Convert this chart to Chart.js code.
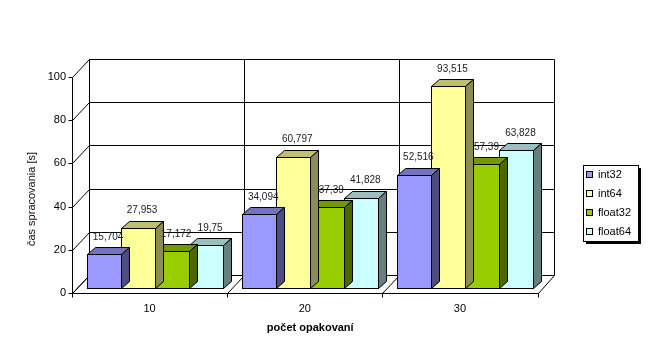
<!DOCTYPE html>
<html><head><meta charset="utf-8">
<script src="https://cdn.jsdelivr.net/npm/chart.js@4/dist/chart.umd.min.js"></script>
<style>html,body{margin:0;padding:0;background:#fff;}canvas{display:block}</style>
</head><body>
<canvas id="c" width="649" height="361"></canvas>
<script>
const categories = ['10', '20', '30'];
const seriesNames = ['int32', 'int64', 'float32', 'float64'];
const int32 = [15.704, 34.094, 52.516];
const int64 = [27.953, 60.797, 93.515];
const float32 = [17.172, 37.39, 57.39];
const float64 = [19.75, 41.828, 63.828];
const yTicks = [0, 20, 40, 60, 80, 100];
const yTitle = 'čas spracovania [s]';
const xTitle = 'počet opakovaní';

const seriesData = [int32, int64, float32, float64];
const frontColors = ['#9999FF', '#FFFF99', '#99CC00', '#CCFFFF'];
const topColors = ['#7373BF', '#BFBF73', '#739900', '#99BFBF'];
const sideColors = ['#4D4D80', '#8C8C59', '#4D6600', '#668080'];

const FONT = 'Liberation Sans, Arial, sans-serif';
Chart.defaults.font.family = FONT;

const FX = -5.5, FY = 5, BX = 11, BY = -13, DX = 8, DY = -7;
const c = v => Math.round(v) + 0.5;

const wall = {
  id: 'wall',
  beforeDatasetsDraw(chart) {
    const {ctx, chartArea: a, scales: {y}} = chart;
    ctx.save();
    ctx.strokeStyle = '#000';
    ctx.lineWidth = 1;
    const line = (x1, y1, x2, y2) => { ctx.beginPath(); ctx.moveTo(c(x1), c(y1)); ctx.lineTo(c(x2), c(y2)); ctx.stroke(); };
    const L = a.left, R = a.right;
    const y0 = y.getPixelForValue(0), y100 = y.getPixelForValue(100);
    yTicks.forEach(v => {
      const py = y.getPixelForValue(v);
      line(L + BX, py + BY, R + BX, py + BY);
      line(L + FX, py + FY, L + BX, py + BY);
      line(L + FX - 4, py + FY, L + FX, py + FY);
    });
    const n = categories.length, cw = (R - L) / n;
    for (let i = 0; i <= n; i++) {
      const px = L + i * cw;
      line(px + BX, y100 + BY, px + BX, y0 + BY);
      line(px + FX, y0 + FY, px + BX, y0 + BY);
      line(px + FX, y0 + FY, px + FX, y0 + FY + 4);
    }
    line(L + FX, y0 + FY, R + FX, y0 + FY);
    line(L + FX, y100 + FY, L + FX, y0 + FY);
    ctx.restore();
  }
};

const bars3d = {
  id: 'bars3d',
  afterDatasetDraw(chart, args) {
    const {ctx} = chart;
    const i = args.index;
    ctx.save();
    ctx.strokeStyle = '#000';
    ctx.lineWidth = 1;
    args.meta.data.forEach(el => {
      const {x, y, base, width} = el.getProps(['x', 'y', 'base', 'width'], true);
      const l = Math.round(x - width / 2), r = Math.round(x + width / 2), t = Math.round(y), b = Math.round(base);
      // top face
      ctx.beginPath();
      ctx.moveTo(l + 0.5, t + 0.5); ctx.lineTo(r + 0.5, t + 0.5);
      ctx.lineTo(r + DX + 0.5, t + DY + 0.5); ctx.lineTo(l + DX + 0.5, t + DY + 0.5);
      ctx.closePath();
      ctx.fillStyle = topColors[i]; ctx.fill(); ctx.stroke();
      // side face
      ctx.beginPath();
      ctx.moveTo(r + 0.5, t + 0.5); ctx.lineTo(r + DX + 0.5, t + DY + 0.5);
      ctx.lineTo(r + DX + 0.5, b + DY + 0.5); ctx.lineTo(r + 0.5, b + 0.5);
      ctx.closePath();
      ctx.fillStyle = sideColors[i]; ctx.fill(); ctx.stroke();
      // front face
      ctx.fillStyle = frontColors[i];
      ctx.fillRect(l, t, r - l, b - t);
      ctx.strokeRect(l + 0.5, t + 0.5, r - l, b - t);
    });
    ctx.restore();
  },
  afterDatasetsDraw(chart) {
    const {ctx} = chart;
    ctx.save();
    ctx.fillStyle = '#1a1a2a';
    ctx.font = '10px ' + FONT;
    ctx.textAlign = 'center';
    ctx.textBaseline = 'middle';
    chart.data.datasets.forEach((ds, i) => {
      chart.getDatasetMeta(i).data.forEach((el, j) => {
        const txt = String(ds.data[j]).replace('.', ',');
        ctx.fillText(txt, el.x + 4, el.y - 17);
      });
    });
    ctx.restore();
  },
  afterDraw(chart) {
    const {ctx} = chart;
    ctx.save();
    // y title
    ctx.fillStyle = '#1a0a0a';
    ctx.font = '11px ' + FONT;
    ctx.translate(32, 199);
    ctx.rotate(-Math.PI / 2);
    ctx.textAlign = 'center';
    ctx.textBaseline = 'middle';
    ctx.fillText(yTitle, 0, 0);
    ctx.restore();
    // legend
    ctx.save();
    const lx = 583, ly = 165, lw = 55, lh = 76;
    ctx.fillStyle = '#000';
    ctx.fillRect(lx + 3, ly + 3, lw, lh);
    ctx.fillStyle = '#fff';
    ctx.fillRect(lx, ly, lw, lh);
    ctx.strokeStyle = '#000';
    ctx.lineWidth = 1;
    ctx.strokeRect(lx + 0.5, ly + 0.5, lw, lh);
    ctx.font = '11px ' + FONT;
    ctx.textBaseline = 'middle';
    ctx.textAlign = 'left';
    seriesNames.forEach((name, i) => {
      const cy = 174 + i * 19;
      ctx.fillStyle = frontColors[i];
      ctx.fillRect(586, cy - 3, 7, 7);
      ctx.strokeRect(586.5, cy - 3 + 0.5, 6, 6);
      ctx.fillStyle = '#000';
      ctx.fillText(name, 598, cy + 0.5);
    });
    ctx.restore();
  }
};

new Chart(document.getElementById('c'), {
  type: 'bar',
  data: {
    labels: categories,
    datasets: seriesData.map((d, i) => ({
      label: seriesNames[i],
      data: d,
      backgroundColor: 'rgba(0,0,0,0)',
      borderWidth: 0,
      categoryPercentage: 0.877,
      barPercentage: 1
    }))
  },
  options: {
    responsive: false,
    animation: false,
    devicePixelRatio: 1,
    layout: {padding: {top: 72, right: 106, left: 0, bottom: 0}},
    plugins: {legend: {display: false}, tooltip: {enabled: false}},
    scales: {
      x: {
        grid: {display: false, drawTicks: false},
        border: {display: false},
        ticks: {color: '#000', font: {size: 11}, padding: 14, labelOffset: -5.5},
        title: {display: true, text: xTitle, color: '#000', font: {size: 11, weight: 'bold'}, padding: {top: 0, bottom: 26}},
        afterFit(s) { s.height = 73; }
      },
      y: {
        min: 0, max: 100,
        grid: {display: false, drawTicks: false},
        border: {display: false},
        afterBuildTicks(s) { s.ticks = yTicks.map(v => ({value: v})); },
        ticks: {color: '#000', font: {size: 11}, padding: 11.5, labelOffset: 5},
        afterFit(s) { s.width = 77.5; }
      }
    }
  },
  plugins: [wall, bars3d]
});
</script>
</body></html>
